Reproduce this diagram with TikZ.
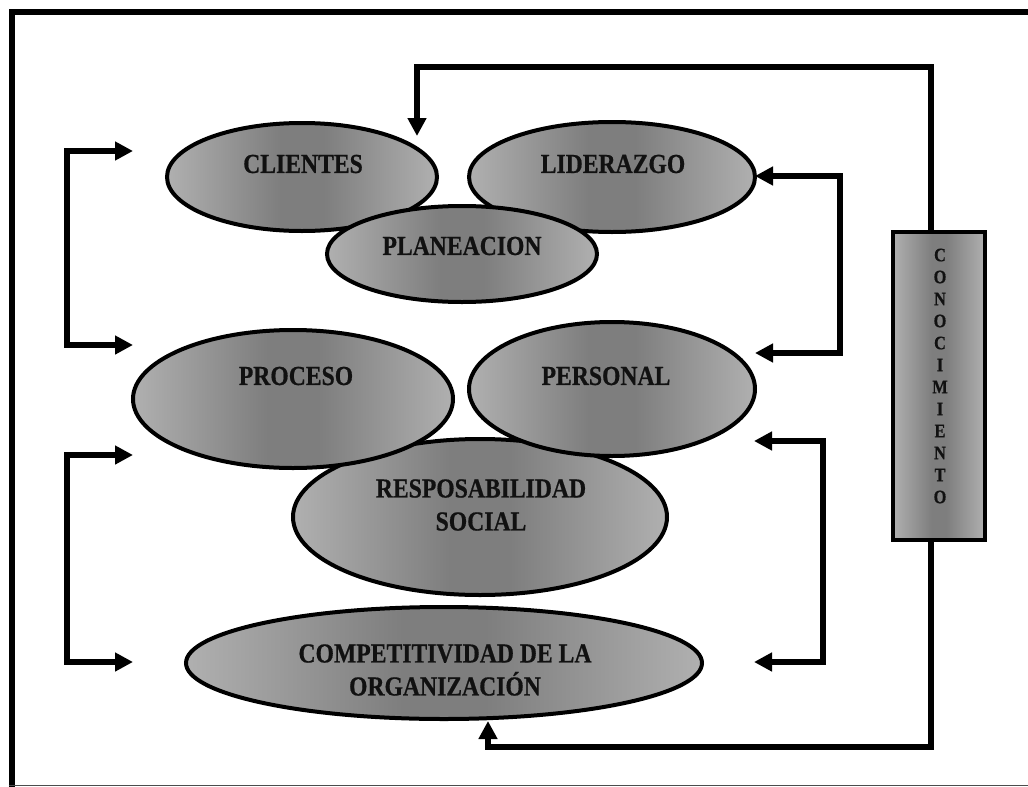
\documentclass[tikz,border=0pt]{standalone}
\usepackage{fontspec}
\setmainfont{Liberation Serif}[FakeStretch=0.86, BoldFeatures={FakeBold=0.6}]
\usetikzlibrary{shapes.geometric,arrows.meta}
\definecolor{shadeLight}{HTML}{B0B0B0}
\definecolor{shadeDark}{HTML}{7E7E7E}
\definecolor{inkText}{HTML}{111111}
% light edges, broad darker middle
\pgfdeclarehorizontalshading{greyband}{100bp}{%
  color(0bp)=(shadeLight); color(25bp)=(shadeLight);
  color(46bp)=(shadeDark); color(54bp)=(shadeDark);
  color(75bp)=(shadeLight); color(100bp)=(shadeLight)}
\begin{document}
\begin{tikzpicture}[x=1pt,y=-1pt,
  blob/.style={ellipse, draw=black, line width=4pt, inner sep=0pt,
    shading=greyband},
  bar/.style={rectangle, draw=black, line width=4pt, inner sep=0pt,
    shading=greyband},
  lbl/.style={font=\fontsize{27.5}{33}\selectfont\bfseries, align=center,
    text=inkText, inner sep=0pt},
  vlbl/.style={font=\fontsize{19}{22}\selectfont\bfseries, align=center,
    text=inkText, inner sep=0pt},
  tipA/.tip={Triangle[length=18pt,width=18pt]},
  bracket/.style={line width=5.5pt, line join=miter, tipA-tipA},
  feedback/.style={line width=5.5pt, line join=miter, -tipA}]
\useasboundingbox (0,0) rectangle (1028,787);

% outer frame
\draw[line width=6pt] (11.5,790) -- (11.5,11.5) -- (1032,11.5);
\draw[line width=1.2pt, black!70] (8.5,785.5) -- (1028,785.5);

% ellipses
\node[blob, minimum width=270pt, minimum height=108pt] (cli) at (302,177) {};
\node[blob, minimum width=286pt, minimum height=110pt] (lid) at (612,177) {};
\node[blob, minimum width=270pt, minimum height=96pt]  (pla) at (462,254) {};
\node[blob, minimum width=374pt, minimum height=156pt] (res) at (480,517) {};
\node[blob, minimum width=320pt, minimum height=138pt] (pro) at (293,399) {};
\node[blob, minimum width=286pt, minimum height=134pt] (per) at (612,389) {};
\node[blob, minimum width=516pt, minimum height=112pt] (com) at (444,663) {};

% labels
\node[lbl] (cliT) at (303,164) {CLIENTES};
\node[lbl] (lidT) at (613,164) {LIDERAZGO};
\node[lbl] (plaT) at (462,246) {PLANEACION};
\node[lbl] (proT) at (296,376) {PROCESO};
\node[lbl] (perT) at (606,376) {PERSONAL};
\node[lbl] (resT) at (481,505) {RESPOSABILIDAD\\SOCIAL};
\node[lbl] (comT) at (445,670) {COMPETITIVIDAD DE LA\\ORGANIZACIÓN};

% knowledge bar
\node[bar, minimum width=92pt, minimum height=308pt] (con) at (939,386) {};
\node[vlbl] (conT) at (940,376) {C\\O\\N\\O\\C\\I\\M\\I\\E\\N\\T\\O};

% brackets between the rows
\coordinate (ltA) at (133,151);
\coordinate (ltB) at (133,345);
\draw[bracket] (ltA) -- (67,151) -- (67,345) -- (ltB);

\coordinate (lbA) at (133,455);
\coordinate (lbB) at (133,662);
\draw[bracket] (lbA) -- (67,455) -- (67,662) -- (lbB);

\coordinate (rtA) at (755,176);
\coordinate (rtB) at (755,353);
\draw[bracket] (rtA) -- (840,176) -- (840,353) -- (rtB);

\coordinate (rbA) at (754,441);
\coordinate (rbB) at (754,662);
\draw[bracket] (rbA) -- (823,441) -- (823,662) -- (rbB);

% feedback from the knowledge bar
\coordinate (k1) at (931,67);
\coordinate (k2) at (417,67);
\coordinate (k3) at (417,136);
\draw[feedback] (k1 |- con.north) -- (k1) -- (k2) -- (k3);

\coordinate (b1) at (931,747);
\coordinate (b2) at (488,747);
\coordinate (b3) at (488,721);
\draw[feedback] (b1 |- con.south) -- (b1) -- (b2) -- (b3);
\end{tikzpicture}
\end{document}
